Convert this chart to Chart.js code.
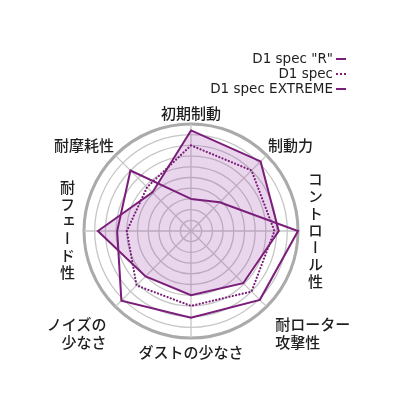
<!DOCTYPE html>
<html>
<head>
<meta charset="utf-8">
<script src="https://cdn.jsdelivr.net/npm/chart.js@4.4.1/dist/chart.umd.min.js"></script>
<style>
    html, body { margin: 0; padding: 0; background: #fff; }
    #wrap { position: relative; width: 400px; height: 409px; overflow: hidden; }
    #chart { position: absolute; left: 0; top: 0; }
    .lbl {
        position: absolute;
        font-family: "Noto Sans CJK JP", sans-serif;
        font-size: 15px;
        font-weight: 500;
        line-height: 18px;
        color: #1e1e1e;
        white-space: nowrap;
    }
    .vert { writing-mode: vertical-rl; letter-spacing: 2px; }
    #legend {
        position: absolute;
        right: 54px;
        top: 51px;
        font-family: "DejaVu Sans", sans-serif;
        font-size: 13.5px;
        line-height: 15px;
        color: #1e1e1e;
        text-align: right;
    }
    .mk {
        display: inline-block;
        width: 10px;
        height: 0;
        margin-left: 3px;
        vertical-align: middle;
        border-top: 2px solid #7a1e7a;
    }
    .mk.dot { border-top-style: dotted; }
</style>
</head>
<body>
<div id="wrap">
    <canvas id="chart" width="400" height="409"></canvas>
    <div id="legend"></div>
</div>
<script>
// axes, clockwise from the top
const categories = ['初期制動', '制動力', 'コントロール性', '耐ローター攻撃性', 'ダストの少なさ', 'ノイズの少なさ', '耐フェード性', '耐摩耗性'];
const labelLines = [['初期制動'], ['制動力'], ['コントロール性'], ['耐ローター', '攻撃性'], ['ダストの少なさ'], ['ノイズの', '少なさ'], ['耐フェード性'], ['耐摩耗性']];

const seriesNames = ['D1 spec "R"', 'D1 spec', 'D1 spec EXTREME'];
const specR = [9.4, 9.2, 8.2, 6.9, 6.0, 6.0, 8.7, 5.1];
const spec = [8.0, 8.0, 7.8, 8.0, 7.0, 7.2, 6.0, 5.8];
const specExtreme = [3.0, 3.8, 10.0, 9.1, 8.1, 9.2, 6.9, 8.0];

const purple = '#7a1e7a';

// legend
const legend = document.getElementById('legend');
seriesNames.forEach((name, i) => {
    const row = document.createElement('div');
    row.innerHTML = `<span>${name}</span><i class="mk${i === 1 ? ' dot' : ''}"></i>`;
    legend.appendChild(row);
});

// point labels as html so the vertical ones can use writing-mode
const wrap = document.getElementById('wrap');
const labelEls = labelLines.map((lines, i) => {
    const el = document.createElement('div');
    el.className = 'lbl';
    if (i === 2 || i === 6) el.classList.add('vert');
    el.innerHTML = lines.join('<br>');
    wrap.appendChild(el);
    return el;
});
const labelGap = [2, 2, 8, 12, 5, 12, 8, 2];

const htmlLabels = {
    id: 'htmlLabels',
    afterDraw(chart) {
        const r = chart.scales.r;
        labelEls.forEach((el, i) => {
            const p = r.getPointPosition(i, r.drawingArea + labelGap[i]);
            const w = el.offsetWidth, h = el.offsetHeight;
            const dx = p.x - r.xCenter, dy = p.y - r.yCenter;
            let x = p.x - w / 2, y = p.y - h / 2;
            if (dx > 1) { x = p.x; el.style.textAlign = 'left'; }
            else if (dx < -1) { x = p.x - w; el.style.textAlign = 'right'; }
            else el.style.textAlign = 'center';
            if (dy > 1) y = p.y;
            else if (dy < -1) y = p.y - h;
            el.style.left = x + 'px';
            el.style.top = y + 'px';
        });
    }
};

new Chart(document.getElementById('chart'), {
    type: 'radar',
    data: {
        labels: categories,
        datasets: [
            {
                label: seriesNames[0],
                data: specR,
                borderColor: purple,
                borderWidth: 2,
                backgroundColor: 'rgba(160, 70, 170, 0.22)',
                fill: true,
                pointRadius: 0,
                order: 3
            },
            {
                label: seriesNames[1],
                data: spec,
                borderColor: purple,
                borderWidth: 2.2,
                borderDash: [0.1, 3.3],
                borderCapStyle: 'round',
                fill: false,
                pointRadius: 0,
                order: 2
            },
            {
                label: seriesNames[2],
                data: specExtreme,
                borderColor: purple,
                borderWidth: 2,
                fill: false,
                pointRadius: 0,
                order: 1
            }
        ]
    },
    options: {
        responsive: false,
        animation: false,
        layout: { padding: { left: 84, right: 102, top: 124, bottom: 71 } },
        plugins: {
            legend: { display: false },
            tooltip: { enabled: false }
        },
        elements: { line: { tension: 0, borderJoinStyle: 'miter' } },
        scales: {
            r: {
                min: 0,
                max: 10,
                ticks: { stepSize: 1, display: false },
                pointLabels: { display: false },
                grid: {
                    circular: true,
                    color: ctx => ctx.tick && ctx.tick.value === 10 ? '#aaaaaa' : '#c6c6c6',
                    lineWidth: ctx => ctx.tick && ctx.tick.value === 10 ? 3 : 1.3
                },
                angleLines: { color: '#c6c6c6', lineWidth: 1.3 }
            }
        }
    },
    plugins: [htmlLabels]
});
</script>
</body>
</html>
